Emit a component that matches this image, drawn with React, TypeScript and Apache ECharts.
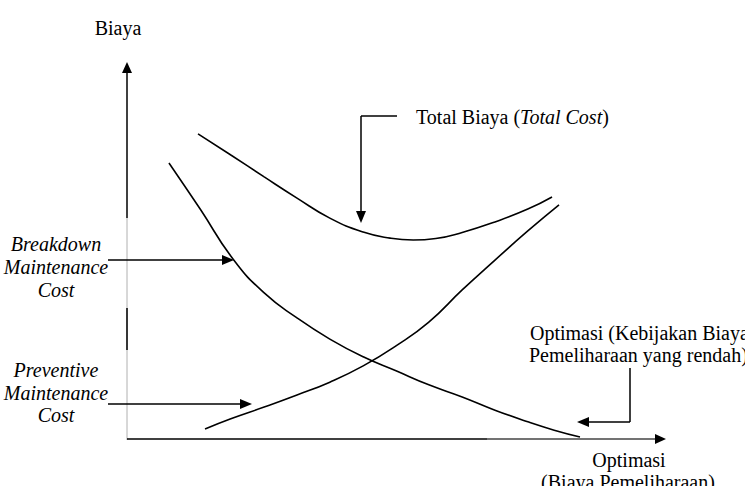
import React, { useEffect, useRef } from "react";
import * as echarts from "echarts";

// Curves (x: maintenance effort 0..100, y: cost 0..100)
const totalCostX = [13.2, 19.3, 25.5, 31.6, 37.7, 43.9, 48.9, 53.2, 57.4, 62.3, 68.4, 74.5, 79.0];
const totalCostY = [81.0, 75.4, 69.6, 64.0, 58.7, 55.0, 53.4, 52.9, 53.3, 54.9, 57.7, 61.1, 64.3];

const breakdownX = [7.8, 13.6, 19.7, 25.5, 31.6, 37.7, 43.9, 50.0, 56.1, 62.3, 68.4, 74.5, 79.4, 84.2];
const breakdownY = [73.3, 61.1, 47.9, 38.9, 32.3, 26.7, 22.0, 18.3, 14.6, 11.4, 7.9, 4.8, 2.6, 0.8];

const preventiveX = [14.5, 19.3, 25.5, 31.6, 37.7, 43.9, 50.0, 56.1, 62.3, 68.4, 74.5, 80.3];
const preventiveY = [2.9, 5.6, 8.7, 11.9, 15.3, 19.6, 24.9, 31.2, 39.7, 47.6, 55.3, 62.2];

const yAxisTitle = "Biaya";
const xAxisTitle = ["Optimasi", "(Biaya Pemeliharaan)"];
const breakdownLabel = ["Breakdown", "Maintenance", "Cost"];
const preventiveLabel = ["Preventive", "Maintenance", "Cost"];
const optimLabel = ["Optimasi (Kebijakan Biaya", "Pemeliharaan yang rendah)"];

const FONT = "'Liberation Serif', 'Times New Roman', serif";

function zip(xs: number[], ys: number[]) {
  return xs.map((x, i) => [x, ys[i]]);
}

function text(t: string, x: number, y: number, opts: any = {}) {
  return {
    type: "text",
    silent: true,
    style: {
      text: t,
      x,
      y,
      fill: "#000",
      font: (opts.italic ? "italic " : "") + "20px " + FONT,
      fontSize: 20,
      fontFamily: FONT,
      fontStyle: opts.italic ? "italic" : "normal",
      align: opts.align || "center",
      verticalAlign: "middle",
    },
  };
}

function line(x1: number, y1: number, x2: number, y2: number, color = "#000", w = 1.5) {
  return {
    type: "line",
    silent: true,
    shape: { x1, y1, x2, y2 },
    style: { stroke: color, lineWidth: w },
  };
}

function tri(points: number[][]) {
  return {
    type: "polygon",
    silent: true,
    shape: { points },
    style: { fill: "#000" },
  };
}

export default function App() {
  const ref = useRef<HTMLDivElement>(null);
  useEffect(() => {
    document.body.style.margin = "0";
    const chart = echarts.init(ref.current!, null, { renderer: "svg" });
    const lineStyle = { color: "#000", width: 1.6 };
    const graphics: any[] = [
      // y axis
      line(127, 70, 127, 218),
      line(127, 218, 127, 440, "#b0b0b0", 1),
      line(127, 308, 127, 350),
      tri([[127, 62], [122, 73], [132, 73]]),
      // x axis
      line(127, 439, 487, 439),
      line(487, 439, 656, 439, "#444", 1.5),
      tri([[666, 439], [655, 434], [655, 444]]),
      // axis titles
      text(yAxisTitle, 118, 28),
      text(xAxisTitle[0], 629, 460),
      text(xAxisTitle[1], 628, 482),
      // total cost annotation
      {
        type: "text",
        silent: true,
        style: {
          text: "{n|Total Biaya (}{i|Total Cost}{n|)}",
          x: 416,
          y: 117,
          align: "left",
          verticalAlign: "middle",
          font: "20px " + FONT,
          fontFamily: FONT,
          fontSize: 20,
          rich: {
            n: { fontSize: 20, fontFamily: FONT, fill: "#000" },
            i: { fontSize: 20, fontFamily: FONT, fontStyle: "italic", fill: "#000" },
          },
        },
      },
      line(397, 116, 361, 116),
      line(361, 116, 361, 212),
      tri([[361, 223], [356, 211], [366, 211]]),
      // breakdown annotation
      text(breakdownLabel[0], 56, 244, { italic: true }),
      text(breakdownLabel[1], 56, 267, { italic: true }),
      text(breakdownLabel[2], 56, 290, { italic: true }),
      line(108, 260, 223, 260),
      tri([[234, 260], [222, 255], [222, 265]]),
      // preventive annotation
      text(preventiveLabel[0], 56, 370, { italic: true }),
      text(preventiveLabel[1], 56, 393, { italic: true }),
      text(preventiveLabel[2], 56, 415, { italic: true }),
      line(108, 404, 241, 404),
      tri([[252, 404], [240, 399], [240, 409]]),
      // optimum annotation
      text(optimLabel[0], 530, 333, { align: "left" }),
      text(optimLabel[1], 529, 355, { align: "left" }),
      line(630, 368, 630, 422),
      line(630, 422, 587, 422),
      tri([[577, 422], [589, 417], [589, 427]]),
    ];
    chart.setOption({
      animation: false,
      grid: { left: 127, top: 62, width: 538, height: 378 },
      xAxis: { type: "value", min: 0, max: 100, show: false },
      yAxis: { type: "value", min: 0, max: 100, show: false },
      series: [
        { type: "line", data: zip(totalCostX, totalCostY), smooth: 0.5, showSymbol: false, lineStyle, silent: true },
        { type: "line", data: zip(breakdownX, breakdownY), smooth: 0.5, showSymbol: false, lineStyle, silent: true },
        { type: "line", data: zip(preventiveX, preventiveY), smooth: 0.5, showSymbol: false, lineStyle, silent: true },
      ],
      graphic: graphics,
    });
    return () => chart.dispose();
  }, []);
  return <div ref={ref} style={{ width: 745, height: 486, background: "#fff" }} />;
}
